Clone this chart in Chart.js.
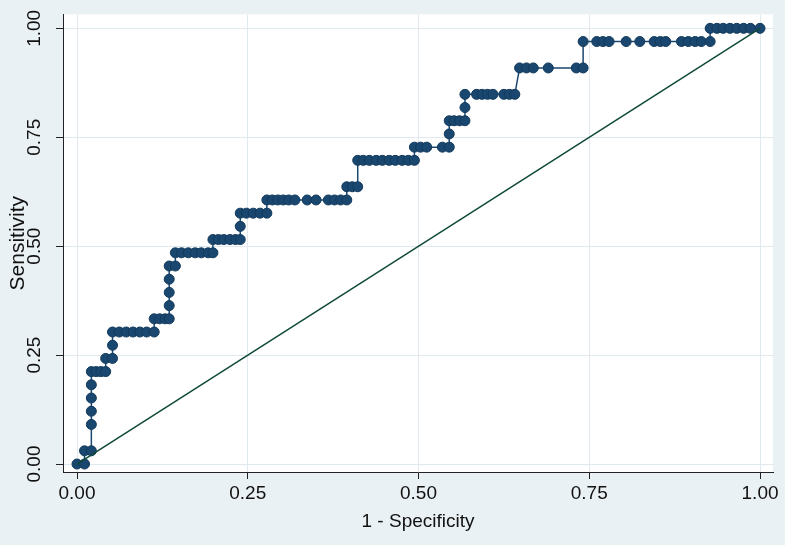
<!DOCTYPE html>
<html>
<head>
<meta charset="utf-8">
<script src="https://cdn.jsdelivr.net/npm/chart.js@4/dist/chart.umd.min.js"></script>
<style>
  body { margin: 0; background: #eaf1f4; }
  canvas { display: block; }
</style>
</head>
<body>
<canvas id="roc-chart" width="785" height="545"></canvas>
<script>
// ROC curve points (1 - specificity, sensitivity)
const fpr = [
  0, 0.011, 0.011, 0.021, 0.021, 0.021, 0.021, 0.021, 0.021, 0.028,
  0.035, 0.042, 0.042, 0.052, 0.052, 0.052, 0.062, 0.072, 0.082, 0.092,
  0.102, 0.113, 0.113, 0.121, 0.129, 0.135, 0.135, 0.135, 0.135, 0.135,
  0.144, 0.144, 0.153, 0.163, 0.173, 0.182, 0.192, 0.199, 0.199, 0.207,
  0.215, 0.224, 0.232, 0.239, 0.239, 0.239, 0.248, 0.258, 0.268, 0.278,
  0.278, 0.286, 0.294, 0.302, 0.310, 0.319, 0.337, 0.350, 0.368, 0.377,
  0.386, 0.395, 0.395, 0.403, 0.411, 0.411, 0.419, 0.428, 0.438, 0.447,
  0.457, 0.466, 0.476, 0.485, 0.494, 0.494, 0.503, 0.512, 0.535, 0.545,
  0.545, 0.545, 0.552, 0.560, 0.568, 0.568, 0.568, 0.585, 0.593, 0.601,
  0.609, 0.625, 0.633, 0.641, 0.648, 0.658, 0.668, 0.690, 0.731, 0.741,
  0.741, 0.761, 0.770, 0.779, 0.804, 0.824, 0.845, 0.854, 0.862, 0.885,
  0.895, 0.905, 0.914, 0.927, 0.927, 0.937, 0.946, 0.956, 0.966, 0.976,
  0.986, 1
];
const sens = [
  0, 0, 0.0303, 0.0303, 0.0909, 0.1212, 0.1515, 0.1818, 0.2121, 0.2121,
  0.2121, 0.2121, 0.2424, 0.2424, 0.2727, 0.3030, 0.3030, 0.3030, 0.3030, 0.3030,
  0.3030, 0.3030, 0.3333, 0.3333, 0.3333, 0.3333, 0.3636, 0.3939, 0.4242, 0.4545,
  0.4545, 0.4848, 0.4848, 0.4848, 0.4848, 0.4848, 0.4848, 0.4848, 0.5152, 0.5152,
  0.5152, 0.5152, 0.5152, 0.5152, 0.5455, 0.5758, 0.5758, 0.5758, 0.5758, 0.5758,
  0.6061, 0.6061, 0.6061, 0.6061, 0.6061, 0.6061, 0.6061, 0.6061, 0.6061, 0.6061,
  0.6061, 0.6061, 0.6364, 0.6364, 0.6364, 0.6970, 0.6970, 0.6970, 0.6970, 0.6970,
  0.6970, 0.6970, 0.6970, 0.6970, 0.6970, 0.7273, 0.7273, 0.7273, 0.7273, 0.7273,
  0.7576, 0.7879, 0.7879, 0.7879, 0.7879, 0.8182, 0.8485, 0.8485, 0.8485, 0.8485,
  0.8485, 0.8485, 0.8485, 0.8485, 0.9091, 0.9091, 0.9091, 0.9091, 0.9091, 0.9091,
  0.9697, 0.9697, 0.9697, 0.9697, 0.9697, 0.9697, 0.9697, 0.9697, 0.9697, 0.9697,
  0.9697, 0.9697, 0.9697, 0.9697, 1, 1, 1, 1, 1, 1,
  1, 1
];

// reference line
const refX = [0, 1];
const refY = [0, 1];

const tickVals = [0, 0.25, 0.5, 0.75, 1];

const FONT = "'Liberation Sans', Arial, sans-serif";

// light blue-grey graph region, white plot region
const backgroundPlugin = {
  id: "stataBackground",
  beforeDraw(chart) {
    const { ctx, chartArea } = chart;
    ctx.save();
    ctx.fillStyle = "#eaf1f4";
    ctx.fillRect(0, 0, chart.width, chart.height);
    ctx.fillStyle = "#ffffff";
    ctx.fillRect(chartArea.left, chartArea.top,
      chartArea.right - chartArea.left, chartArea.bottom - chartArea.top);
    ctx.restore();
  },
};

function fixedTicks(axis) {
  axis.ticks = tickVals.map((v) => ({ value: v }));
}

new Chart(document.getElementById("roc-chart"), {
  type: "scatter",
  data: {
    datasets: [
      {
        label: "Reference",
        data: refX.map((x, i) => ({ x: x, y: refY[i] })),
        showLine: true,
        borderColor: "#0f4a38",
        borderWidth: 1.5,
        pointRadius: 0,
      },
      {
        label: "ROC",
        data: fpr.map((x, i) => ({ x: x, y: sens[i] })),
        showLine: true,
        borderColor: "#1a476f",
        borderWidth: 1.5,
        pointRadius: 5,
        pointBorderWidth: 1,
        pointBackgroundColor: "#1a476f",
        pointBorderColor: "#133a5c",
      },
    ],
  },
  options: {
    responsive: false,
    animation: false,
    devicePixelRatio: 1,
    layout: { padding: { top: 14, right: 12, left: 0, bottom: 0 } },
    plugins: {
      legend: { display: false },
      tooltip: { enabled: false },
    },
    scales: {
      x: {
        type: "linear",
        min: -0.0205,
        max: 1.019,
        afterBuildTicks: fixedTicks,
        afterFit: (s) => { s.height = 73; },
        border: { display: true, color: "#222", width: 1 },
        grid: { color: "#e0e9ed", tickColor: "#222", tickLength: 7 },
        ticks: {
          color: "#111",
          padding: 3,
          maxRotation: 0,
          font: { family: FONT, size: 19 },
          callback: (v) => Number(v).toFixed(2),
        },
        title: {
          display: true,
          text: "1 - Specificity",
          color: "#111",
          padding: { top: 0, bottom: 12 },
          font: { family: FONT, size: 19 },
        },
      },
      y: {
        type: "linear",
        min: -0.0183,
        max: 1.032,
        afterBuildTicks: fixedTicks,
        afterFit: (s) => { s.width = 63; },
        border: { display: true, color: "#222", width: 1 },
        grid: { color: "#e0e9ed", tickColor: "#222", tickLength: 7 },
        ticks: {
          color: "#111",
          padding: 3,
          minRotation: 90,
          maxRotation: 90,
          crossAlign: "center",
          font: { family: FONT, size: 19 },
          callback: (v) => Number(v).toFixed(2),
        },
        title: {
          display: true,
          text: "Sensitivity",
          color: "#111",
          padding: { top: 6, bottom: 0 },
          font: { family: FONT, size: 21 },
        },
      },
    },
  },
  plugins: [backgroundPlugin],
});
</script>
</body>
</html>
